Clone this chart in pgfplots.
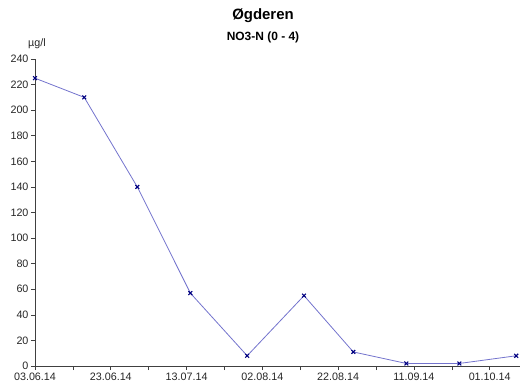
\documentclass[border=0pt]{standalone}
\usepackage{fontspec}
\setmainfont{Liberation Sans}
\usepackage{pgfplots}
\pgfplotsset{compat=1.18}
\definecolor{linec}{RGB}{115,115,205}
\definecolor{markc}{RGB}{0,0,128}
\begin{document}
\begin{tikzpicture}[x=1bp,y=1bp]
\begin{axis}[
  at={(0,0)}, anchor=origin,
  scale only axis, width=485bp, height=307bp,
  xmin=0, xmax=128, ymin=0, ymax=240,
  axis x line*=bottom, axis y line*=left,
  axis line style={-, line width=0.8pt, draw=black!75},
  xtick={0,20,...,120},
  xticklabels={03.06.14,23.06.14,13.07.14,02.08.14,22.08.14,11.09.14,01.10.14},
  minor xtick={10,30,...,130},
  ytick={0,20,...,240},
  tick align=outside,
  major tick length=4bp, minor tick length=4bp,
  tick style={black!75, line width=0.6pt},
  every minor tick/.style={black!75, line width=0.6pt},
  tick label style={font=\fontsize{10.8}{12}\selectfont, text=black!85},
  yticklabel style={xshift=1bp},
  xticklabel style={yshift=1bp},
  /pgf/number format/assume math mode=true,
  clip=false,
]
\addplot[color=linec, line width=0.8pt, mark=x, mark size=2.7pt,
  mark options={draw=markc, line width=1.1pt}] coordinates {
  (0,225) (13,210) (27,140) (41,57) (56,8) (71,55) (84,11) (98,2) (112,2) (127,8)
};
\end{axis}
\node[font=\fontsize{15}{17}\selectfont\bfseries] at (228,350) {Øgderen};
\node[font=\fontsize{12}{14}\selectfont\bfseries] at (228,329) {NO3-N (0 - 4)};
\node[font=\fontsize{10.8}{12}\selectfont, text=black!85] at (2,322) {µg/l};
\useasboundingbox (-35,-24) rectangle (487,366);
\end{tikzpicture}
\end{document}
